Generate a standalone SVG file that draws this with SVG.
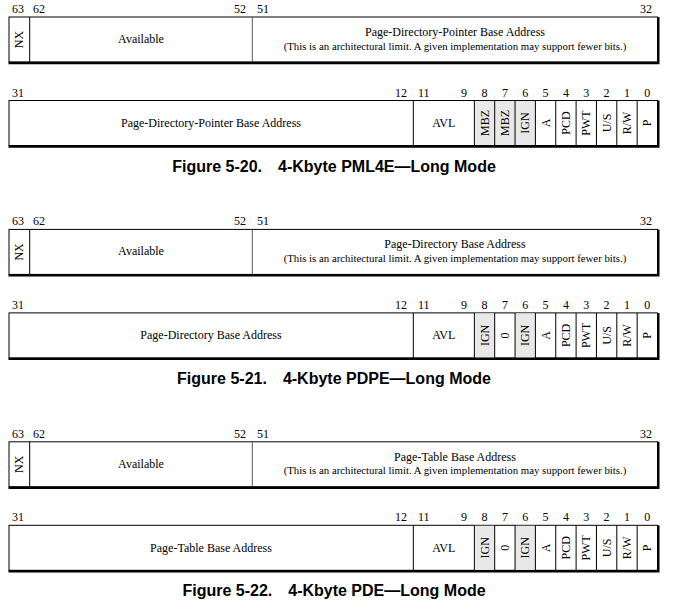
<svg xmlns="http://www.w3.org/2000/svg" xmlns:xlink="http://www.w3.org/1999/xlink" width="676" height="616" viewBox="0 0 676 616">
<style>
.box{fill:#ffffff;stroke:#000;stroke-width:1}
.gray{fill:#e8e8e8;stroke:none}
.div{stroke:#000;stroke-width:1}
.div2{stroke:#555;stroke-width:1}
.sh{stroke:#000;stroke-width:2.4;fill:none}
.t{font-family:"Liberation Serif","Times New Roman",serif;font-size:12px;fill:#000}
.s{font-family:"Liberation Serif","Times New Roman",serif;font-size:10.8px;fill:#000}
.m{text-anchor:middle}
.e{text-anchor:end}
.cap{font-family:"Liberation Sans",Arial,sans-serif;font-size:16px;font-weight:bold;fill:#000;text-anchor:middle}
</style>
<defs>
<g id="frame1">
<rect class="box" x="9" y="17" width="648.5" height="45"/>
<line class="div" x1="29.7" y1="17" x2="29.7" y2="62"/>
<line class="div2" x1="252.3" y1="17" x2="252.3" y2="62"/>
<polyline class="sh" points="658.3,17 658.3,63 8.5,63"/>
</g>
<g id="frame2">
<polyline class="sh" points="658.3,100.5 658.3,146.5 8.5,146.5"/>
<line class="div" x1="413.3" y1="100.5" x2="413.3" y2="145.5"/>
<line class="div" x1="474.35" y1="100.5" x2="474.35" y2="145.5"/>
<line class="div" x1="494.7" y1="100.5" x2="494.7" y2="145.5"/>
<line class="div" x1="515.05" y1="100.5" x2="515.05" y2="145.5"/>
<line class="div" x1="535.4" y1="100.5" x2="535.4" y2="145.5"/>
<line class="div" x1="555.75" y1="100.5" x2="555.75" y2="145.5"/>
<line class="div" x1="576.1" y1="100.5" x2="576.1" y2="145.5"/>
<line class="div" x1="596.45" y1="100.5" x2="596.45" y2="145.5"/>
<line class="div" x1="616.8" y1="100.5" x2="616.8" y2="145.5"/>
<line class="div" x1="637.15" y1="100.5" x2="637.15" y2="145.5"/>
</g>
<g id="nums">
<text class="t" x="12" y="13">63</text>
<text class="t" x="33" y="13">62</text>
<text class="t e" x="246" y="13">52</text>
<text class="t" x="257" y="13">51</text>
<text class="t e" x="652" y="13">32</text>
<text class="t" x="12" y="96.5">31</text>
<text class="t e" x="407" y="96.5">12</text>
<text class="t" x="418" y="96.5">11</text>
<text class="t e" x="467" y="96.5">9</text>
<text class="t m" x="484.5" y="96.5">8</text>
<text class="t m" x="504.9" y="96.5">7</text>
<text class="t m" x="525.2" y="96.5">6</text>
<text class="t m" x="545.6" y="96.5">5</text>
<text class="t m" x="565.9" y="96.5">4</text>
<text class="t m" x="586.3" y="96.5">3</text>
<text class="t m" x="606.6" y="96.5">2</text>
<text class="t m" x="627" y="96.5">1</text>
<text class="t m" x="647.3" y="96.5">0</text>
<text class="t m" transform="translate(22.5,39.5) rotate(-90)">NX</text>
<text class="t m" x="141" y="43">Available</text>
<text class="t m" x="443.8" y="127">AVL</text>
<text class="t m" transform="translate(549.6,123) rotate(-90)">A</text>
<text class="t m" transform="translate(569.9,123) rotate(-90)">PCD</text>
<text class="t m" transform="translate(590.3,123) rotate(-90)">PWT</text>
<text class="t m" transform="translate(610.6,123) rotate(-90)">U/S</text>
<text class="t m" transform="translate(631,123) rotate(-90)">R/W</text>
<text class="t m" transform="translate(651.3,123) rotate(-90)">P</text>
<text class="s m" x="455" y="49.5">(This is an architectural limit. A given implementation may support fewer bits.)</text>
</g>
</defs>

<g id="fig-5-20">
<g id="pml4e-high">
<use xlink:href="#frame1"/>
<text class="t m" x="455" y="36">Page-Directory-Pointer Base Address</text>
</g>
<g id="pml4e-low">
<rect class="box" x="9" y="100.5" width="648.5" height="45"/>
<rect class="gray" x="474.35" y="101" width="61.05" height="44"/>
<use xlink:href="#frame2"/>
<text class="t m" x="211" y="127">Page-Directory-Pointer Base Address</text>
<text class="t m" transform="translate(488.5,123) rotate(-90)">MBZ</text>
<text class="t m" transform="translate(508.9,123) rotate(-90)">MBZ</text>
<text class="t m" transform="translate(529.2,123) rotate(-90)">IGN</text>
</g>
<use xlink:href="#nums"/>
<text class="cap" x="334" y="171.5">Figure 5-20.<tspan dx="16">4-Kbyte PML4E—Long Mode</tspan></text>
</g>

<g id="fig-5-21" transform="translate(0,212.4)">
<g id="pdpe-high">
<use xlink:href="#frame1"/>
<text class="t m" x="455" y="36">Page-Directory Base Address</text>
</g>
<g id="pdpe-low">
<rect class="box" x="9" y="100.5" width="648.5" height="45"/>
<rect class="gray" x="474.35" y="101" width="20.35" height="44"/>
<rect class="gray" x="515.05" y="101" width="20.35" height="44"/>
<use xlink:href="#frame2"/>
<text class="t m" x="211" y="127">Page-Directory Base Address</text>
<text class="t m" transform="translate(488.5,123) rotate(-90)">IGN</text>
<text class="t m" transform="translate(508.9,123) rotate(-90)">0</text>
<text class="t m" transform="translate(529.2,123) rotate(-90)">IGN</text>
</g>
<use xlink:href="#nums"/>
<text class="cap" x="334" y="171.5">Figure 5-21.<tspan dx="16">4-Kbyte PDPE—Long Mode</tspan></text>
</g>

<g id="fig-5-22" transform="translate(0,424.8)">
<g id="pde-high">
<use xlink:href="#frame1"/>
<text class="t m" x="455" y="36">Page-Table Base Address</text>
</g>
<g id="pde-low">
<rect class="box" x="9" y="100.5" width="648.5" height="45"/>
<rect class="gray" x="474.35" y="101" width="20.35" height="44"/>
<rect class="gray" x="515.05" y="101" width="20.35" height="44"/>
<use xlink:href="#frame2"/>
<text class="t m" x="211" y="127">Page-Table Base Address</text>
<text class="t m" transform="translate(488.5,123) rotate(-90)">IGN</text>
<text class="t m" transform="translate(508.9,123) rotate(-90)">0</text>
<text class="t m" transform="translate(529.2,123) rotate(-90)">IGN</text>
</g>
<use xlink:href="#nums"/>
<text class="cap" x="334" y="171.5">Figure 5-22.<tspan dx="16">4-Kbyte PDE—Long Mode</tspan></text>
</g>
</svg>
